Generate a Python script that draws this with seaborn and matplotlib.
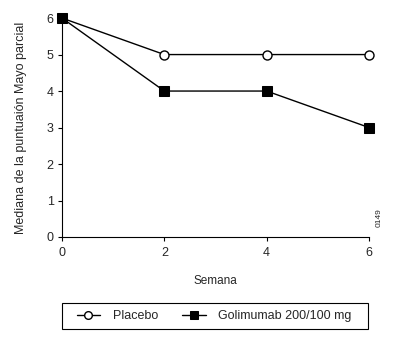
import matplotlib
matplotlib.use("Agg")
import matplotlib.pyplot as plt
from matplotlib.patches import Rectangle
import seaborn as sns
import pandas as pd

semana = [0, 2, 4, 6]
placebo = [6, 5, 5, 5]
golimumab = [6, 4, 4, 3]
series_names = ["Placebo", "Golimumab 200/100 mg"]
y_ticks = [0, 1, 2, 3, 4, 5, 6]
x_ticks = [0, 2, 4, 6]

sns.set_theme(style="ticks")
plt.rcParams['font.family'] = ['Liberation Sans', 'DejaVu Sans']

fig = plt.figure(figsize=(4.0, 3.41), dpi=100)
ax = fig.add_axes([0.155, 0.305, 0.7675, 0.642])

df_p = pd.DataFrame({"Semana": semana, "val": placebo})
df_g = pd.DataFrame({"Semana": semana, "val": golimumab})

sns.lineplot(data=df_p, x="Semana", y="val", ax=ax, color="black", lw=1.0,
             marker="o", markersize=6.5, markerfacecolor="white",
             markeredgecolor="black", markeredgewidth=1.0, clip_on=False,
             label=series_names[0], zorder=3)
sns.lineplot(data=df_g, x="Semana", y="val", ax=ax, color="black", lw=1.0,
             marker="s", markersize=6.5, markerfacecolor="black",
             markeredgecolor="black", clip_on=False,
             label=series_names[1], zorder=4)

ax.set_xlim(0, 6)
ax.set_ylim(0, 6)
ax.set_xticks(x_ticks)
ax.set_yticks(y_ticks)
ax.tick_params(axis="x", labelsize=9, length=3, width=0.8, color="black", pad=4)
ax.tick_params(axis="y", labelsize=9, length=3, width=0.8, color="black", pad=3)
for s in ["top", "right"]:
    ax.spines[s].set_visible(False)
for s in ["left", "bottom"]:
    ax.spines[s].set_linewidth(0.8)
    ax.spines[s].set_color("black")
ax.set_xlabel("Semana", fontsize=8.5, labelpad=12)
ax.set_ylabel("Mediana de la puntuaión Mayo parcial", fontsize=9, labelpad=14)

ax.get_legend().remove()
handles, labels = ax.get_legend_handles_labels()
leg = fig.legend(handles, labels, loc="center", bbox_to_anchor=(0.535, 0.073),
                 ncol=2, fontsize=9, frameon=False,
                 columnspacing=1.9, handlelength=1.9, handletextpad=1.0,
                 markerscale=0.85)
fig.patches.append(Rectangle((0.155, 0.035), 0.765, 0.076, transform=fig.transFigure,
                             fill=False, edgecolor="black", linewidth=0.8))

fig.text(0.948, 0.335, "0149", rotation=90, fontsize=6, ha="center", va="bottom")

fig.savefig("out.png", dpi=100)
